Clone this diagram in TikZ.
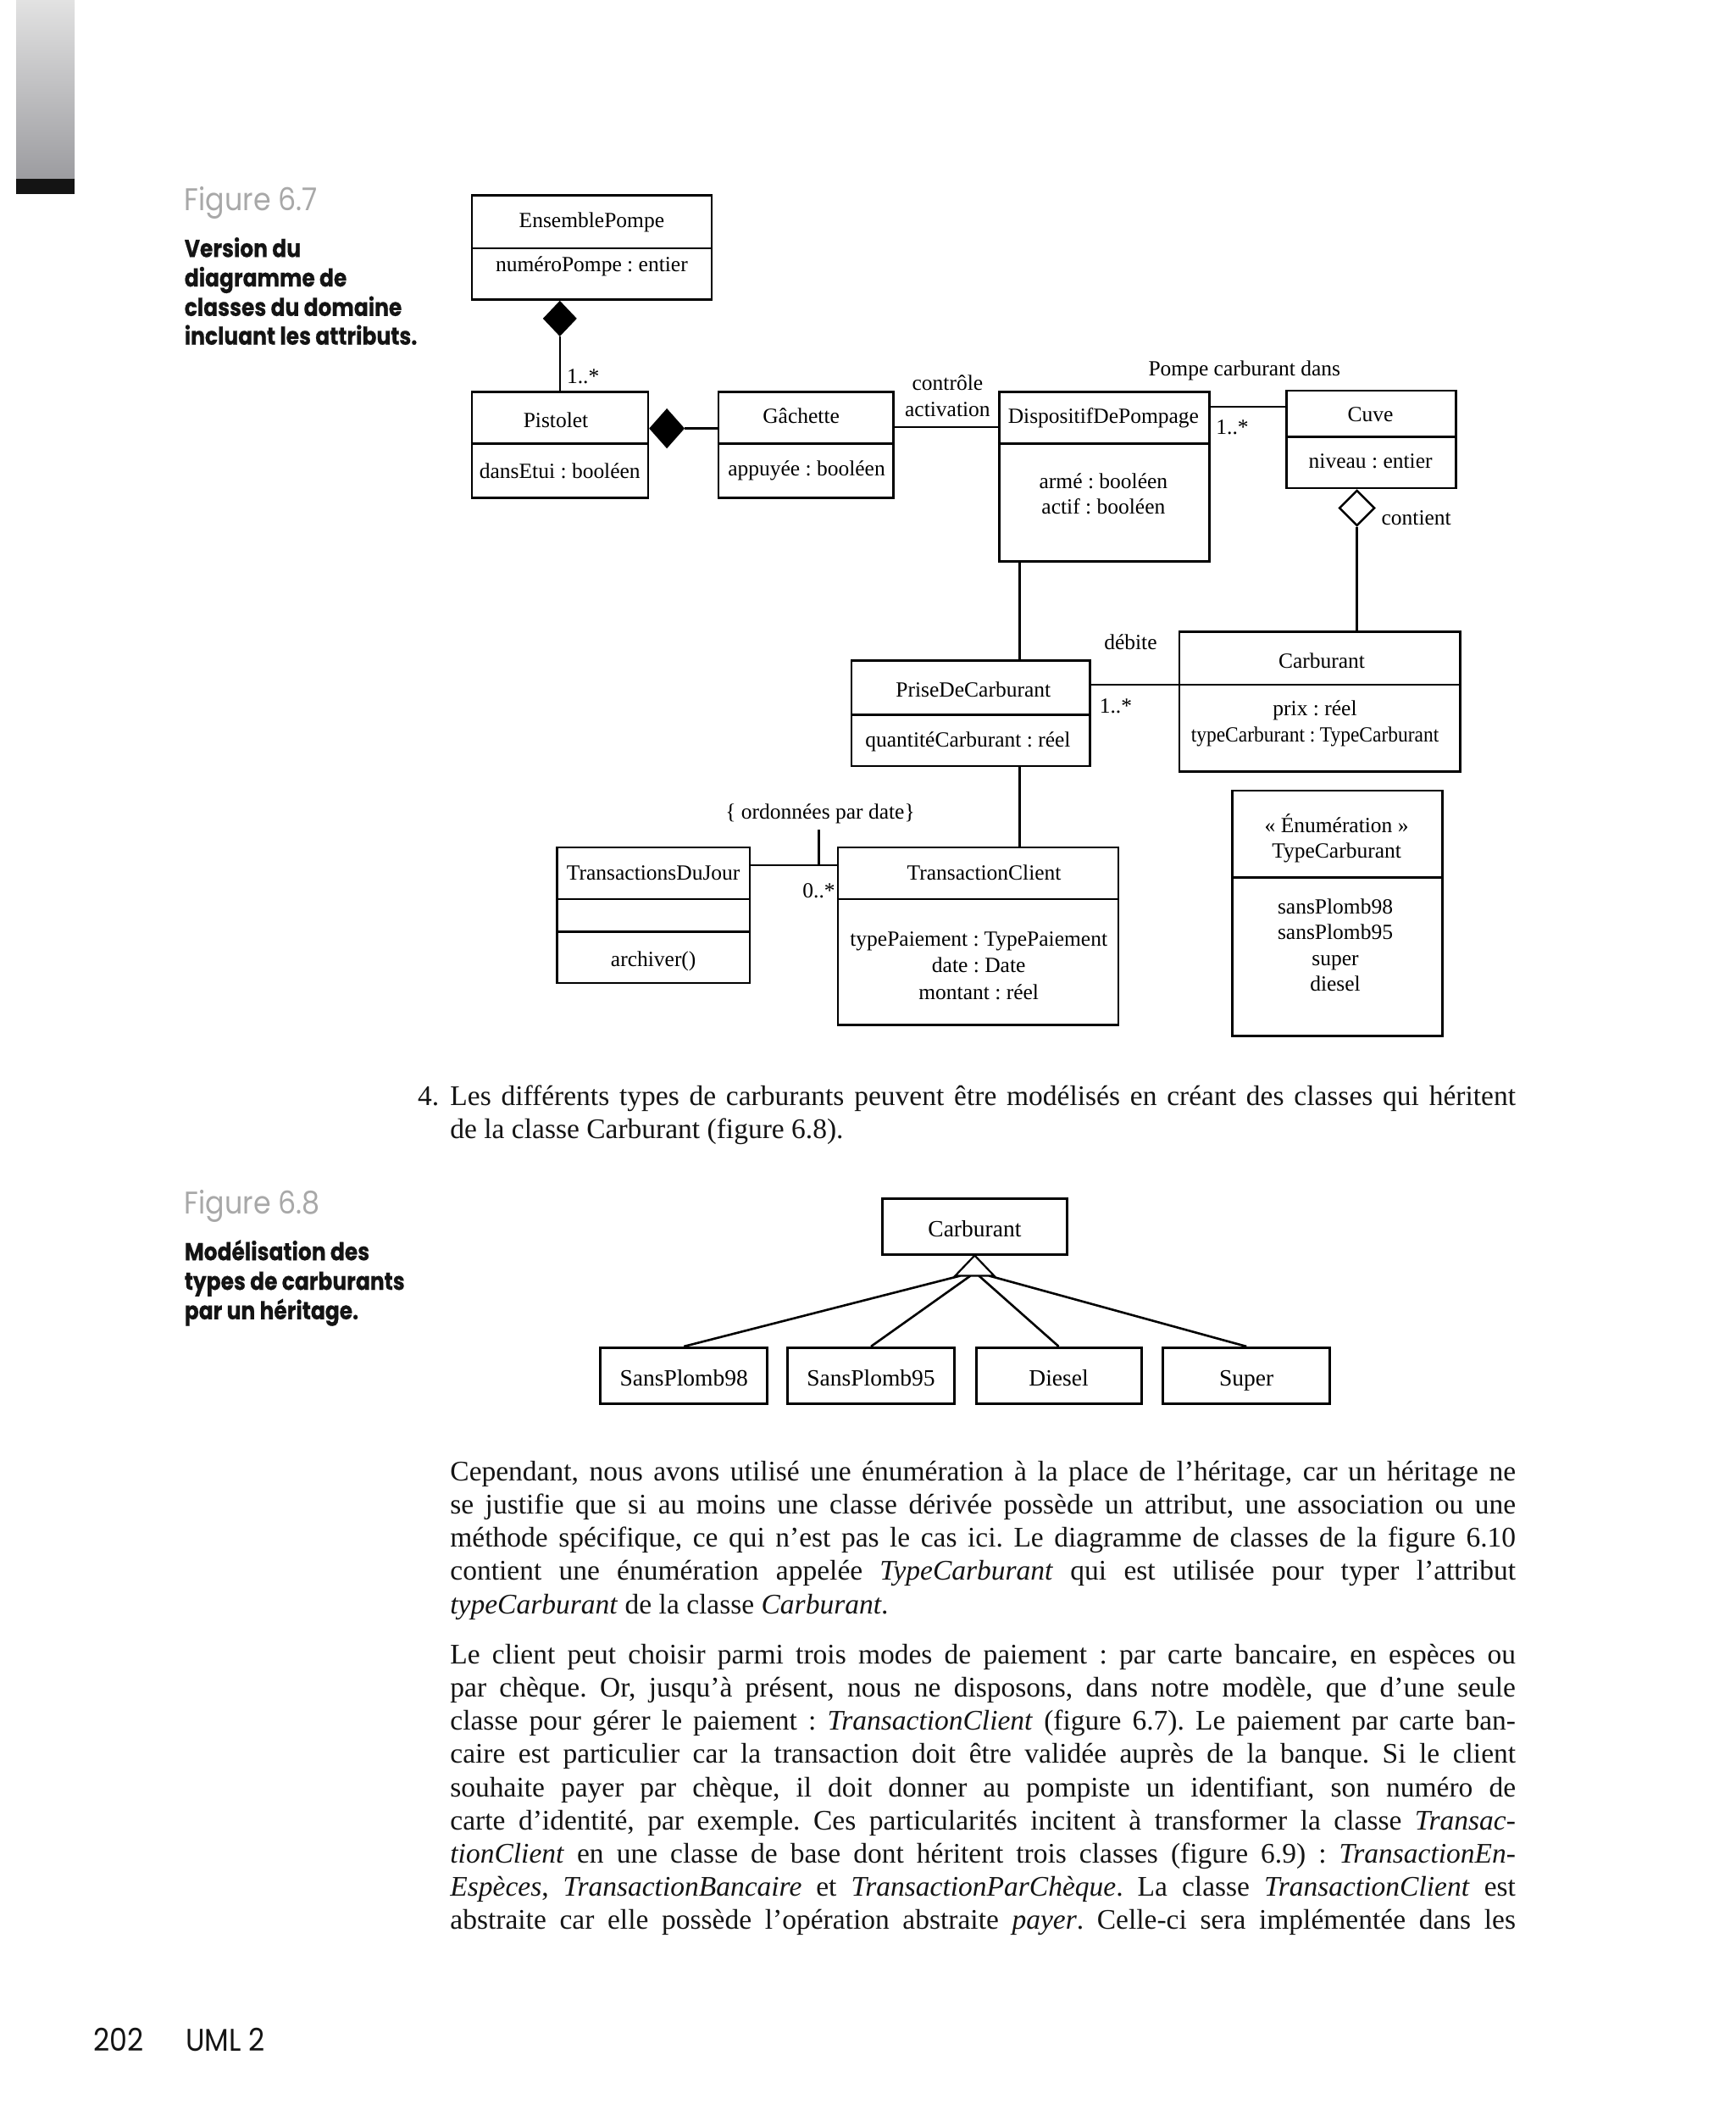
\documentclass[tikz,border=0pt]{standalone}
\usepackage{fontspec}
\setmainfont{Liberation Serif}
\newfontfamily\futura{Poppins}[FakeStretch=0.9]
\newfontfamily\futurab{Poppins}[FakeStretch=0.86, BoldFeatures={FakeBold=0.5}]
\usetikzlibrary{shapes.geometric,fit}
\definecolor{figgray}{gray}{0.66}
\definecolor{ink}{gray}{0.08}
\newcommand\dgfont{\fontsize{25.5}{30.5}\selectfont}
\newcommand\dgbfont{\fontsize{27.5}{30.5}\selectfont}
\newcommand\txfont{\fontsize{33.5}{39}\selectfont\frenchspacing}
\newcommand\figfont{\futura\fontsize{37}{40}\selectfont}
\newcommand\capfont{\futurab\bfseries\fontsize{29}{34.7}\selectfont}
% real space glyphs between words
\def\wsp{\char32\hskip0pt plus 1fil\relax}
\def\wspn{\char32\relax}
\let\wlend\relax
\def\wlgo#1 #2\wlend{#1\if\relax\detokenize{#2}\relax\else\wlsep\wlgo#2\wlend\fi}
\newcommand\J[1]{\let\wlsep\wsp\wlgo#1 \wlend}
\newcommand\T[1]{\let\wlsep\wspn\wlgo#1 \wlend}
\newcommand\divl[2]{\draw[conn] (#1.west |- 0,#2) -- (#1.east |- 0,#2);}
\newcommand\jline[3]{\node[txt] (#1) at (332,#2) {\makebox[1257.6pt][s]{\J{#3}}};}
\newcommand\rline[3]{\node[txt] (#1) at (332,#2) {\T{#3}};}
\begin{document}
\begin{tikzpicture}[x=1.6pt,y=-1.6pt,
  cls/.style={draw, line width=2.6pt, inner sep=0pt},
  clsb/.style={draw, line width=3pt, inner sep=0pt},
  conn/.style={line width=2.6pt},
  lbl/.style={font=\dgfont, anchor=base, inner sep=0pt},
  lblb/.style={font=\dgbfont, anchor=base, inner sep=0pt},
  txt/.style={font=\txfont, anchor=base west, inner sep=0pt, text=ink},
  figcap/.style={font=\figfont, anchor=base west, inner sep=0pt, text=figgray},
  capb/.style={font=\capfont, anchor=base west, inner sep=0pt, text=ink},
  comp/.style={diamond, draw, fill=black, line width=2pt, inner sep=0pt},
  aggr/.style={diamond, draw, fill=white, line width=2.4pt, inner sep=0pt}]
\useasboundingbox (0,0) rectangle (1280,1568.75);
\fill[white] (0,0) rectangle (1280,1568.75);
% page decoration
\shade[top color={rgb,255:red,226;green,226;blue,226}, bottom color={rgb,255:red,156;green,156;blue,160}] (12,0) rectangle (55,132);
\fill[ink] (12,132) rectangle (55,143);
% caption 6.7
\node[figcap] (f67) at (136,155) {\T{Figure 6.7}};
\node[capb] (c67a) at (136,189.6) {\T{Version du}};
\node[capb] (c67b) at (136,211.3) {\T{diagramme de}};
\node[capb] (c67c) at (136,233) {\T{classes du domaine}};
\node[capb] (c67d) at (136,254.2) {\T{incluant les attributs.}};
% ===== Figure 6.7 =====
\node[cls, fit={(348,144) (525,221)}] (ep) {};
\divl{ep}{183}
\node[lbl] (ept) at (436.5,168) {EnsemblePompe};
\node[lbl] (epa) at (436.5,200) {\T{numéroPompe : entier}};
\node[cls, fit={(348,289) (478,367)}] (pis) {};
\divl{pis}{327}
\node[lbl] (pist) at (410,315) {Pistolet};
\node[lbl] (pisa) at (413,353) {\T{dansEtui : booléen}};
\node[cls, fit={(530,289) (659,367)}] (gac) {};
\divl{gac}{327}
\node[lbl] (gact) at (591,312) {Gâchette};
\node[lbl] (gaca) at (595,351) {\T{appuyée : booléen}};
\node[cls, fit={(737,289) (892,414)}] (disp) {};
\divl{disp}{327}
\node[lbl] (dispt) at (814,312) {DispositifDePompage};
\node[lbl] (dispa) at (814,360) {\T{armé : booléen}};
\node[lbl] (dispb) at (814,379) {\T{actif : booléen}};
\node[cls, fit={(949,288) (1074,360)}] (cuve) {};
\divl{cuve}{322}
\node[lbl] (cuvet) at (1011,311) {Cuve};
\node[lbl] (cuvea) at (1011,345) {\T{niveau : entier}};
\node[cls, fit={(870,466) (1077,569)}] (carb) {};
\divl{carb}{505}
\node[lbl] (carbt) at (975,493) {Carburant};
\node[lbl] (carba) at (970,528) {\T{prix : réel}};
\node[lbl] (carbb) at (970,547) {\scalebox{0.92}[1]{\T{typeCarburant : TypeCarburant}}};
\node[cls, fit={(628,487) (804,565)}] (prise) {};
\divl{prise}{527}
\node[lbl] (priset) at (718,514) {PriseDeCarburant};
\node[lbl] (prisea) at (714,551) {\T{quantitéCarburant : réel}};
\node[cls, fit={(618,625) (825,756)}] (tc) {};
\divl{tc}{663}
\node[lbl] (tct) at (726,649) {TransactionClient};
\node[lbl] (tca) at (722,698) {\T{typePaiement : TypePaiement}};
\node[lbl] (tcb) at (722,717) {\T{date : Date}};
\node[lbl] (tcc) at (722,737) {\T{montant : réel}};
\node[cls, fit={(411,625) (553,725)}] (tdj) {};
\divl{tdj}{663}
\divl{tdj}{687}
\node[lbl] (tdjt) at (482,649) {TransactionsDuJour};
\node[lbl] (tdja) at (482,713) {archiver()};
\node[cls, fit={(909,583) (1064,764)}] (enum) {};
\divl{enum}{647}
\node[lbl] (enuma) at (986,614) {\T{« Énumération »}};
\node[lbl] (enumb) at (986,633) {TypeCarburant};
\node[lbl] (enumc) at (985,674) {sansPlomb98};
\node[lbl] (enumd) at (985,693) {sansPlomb95};
\node[lbl] (enume) at (985,712) {super};
\node[lbl] (enumf) at (985,731) {diesel};
% connectors
\node[comp, minimum width=38pt, minimum height=40pt, anchor=north] (dm1) at (pis.north |- ep.south) {};
\draw[conn] (dm1.south) -- (pis.north);
\node[lbl, anchor=base west] (m1) at (418,283) {1..*};
\node[comp, minimum width=40pt, minimum height=45pt, anchor=west] (dm2) at (pis.east |- 0,316) {};
\draw[conn] (dm2.east) -- (dm2.east -| gac.west);
\draw[conn] (gac.east |- 0,315) -- (disp.west |- 0,315);
\node[lbl] (labc) at (699,288) {contrôle};
\node[lbl] (laba) at (699,307) {activation};
\draw[conn] (disp.east |- 0,300) -- (cuve.west |- 0,300);
\node[lbl] (labp) at (918,277) {\T{Pompe carburant dans}};
\node[lbl, anchor=base west] (m2) at (897,320) {1..*};
\node[aggr, minimum width=42pt, minimum height=42pt, anchor=north] (dm3) at (cuve.south -| 1001,0) {};
\draw[conn] (dm3.south) -- (dm3.south |- carb.north);
\node[lbl, anchor=base west] (labct) at (1019,387) {contient};
\draw[conn] (disp.south -| 752,0) -- (prise.north -| 752,0);
\draw[conn] (prise.east |- 0,505) -- (carb.west |- 0,505);
\node[lbl] (labd) at (834,479) {débite};
\node[lbl, anchor=base west] (m3) at (811,526) {1..*};
\draw[conn] (prise.south -| 752,0) -- (tc.north -| 752,0);
\draw[conn] (tdj.east |- 0,638) -- (tc.west |- 0,638);
\coordinate (ck) at (604,612);
\draw[conn] (ck) -- (ck |- 0,638);
\node[lbl] (labo) at (605,604) {\T{\{ ordonnées par date\}}};
\node[lbl, anchor=base west] (m4) at (592,662) {0..*};
% ===== item 4 =====
\node[txt, anchor=base west] (i4) at (308,815) {4.};
\jline{i4a}{815}{Les différents types de carburants peuvent être modélisés en créant des classes qui héritent}
\rline{i4b}{839.5}{de la classe Carburant (figure 6.8).}
% caption 6.8
\node[figcap] (f68) at (136,895.5) {\T{Figure 6.8}};
\node[capb] (c68a) at (136,929.5) {\T{Modélisation des}};
\node[capb] (c68b) at (136,951.3) {\T{types de carburants}};
\node[capb] (c68c) at (136,973) {\T{par un héritage.}};
% ===== Figure 6.8 =====
\node[clsb, fit={(651,884) (787,925)}] (c2) {};
\node[lblb] (c2t) at (719,912) {Carburant};
\coordinate (tb) at ([yshift=-24pt]c2.south);
\node[clsb, fit={(443,994) (566,1035)}] (s98) {};
\node[lblb] (s98t) at (504.5,1022) {SansPlomb98};
\node[clsb, fit={(581,994) (704,1035)}] (s95) {};
\node[lblb] (s95t) at (642.5,1022) {SansPlomb95};
\node[clsb, fit={(720,994) (842,1035)}] (die) {};
\node[lblb] (diet) at (781,1022) {Diesel};
\node[clsb, fit={(858,994) (981,1035)}] (sup) {};
\node[lblb] (supt) at (919.5,1022) {Super};
\draw[conn] ([xshift=-17pt]tb) -- (s98.north);
\draw[conn] ([xshift=-5pt]tb) -- (s95.north);
\draw[conn] ([xshift=5pt]tb) -- (die.north);
\draw[conn] ([xshift=17pt]tb) -- (sup.north);
\draw[line width=2.2pt, fill=white, line join=miter] (c2.south) -- ([xshift=-23pt]tb) -- ([xshift=23pt]tb) -- cycle;
% ===== body text =====
\jline{p1a}{1092}{Cependant, nous avons utilisé une énumération à la place de l’héritage, car un héritage ne}
\jline{p1b}{1116.5}{se justifie que si au moins une classe dérivée possède un attribut, une association ou une}
\jline{p1c}{1141}{méthode spécifique, ce qui n’est pas le cas ici. Le diagramme de classes de la figure 6.10}
\jline{p1d}{1165.5}{contient une énumération appelée \textit{TypeCarburant} qui est utilisée pour typer l’attribut}
\rline{p1e}{1190}{\textit{typeCarburant} de la classe \textit{Carburant}.}
\jline{p2a}{1227}{Le client peut choisir parmi trois modes de paiement : par carte bancaire, en espèces ou}
\jline{p2b}{1251.5}{par chèque. Or, jusqu’à présent, nous ne disposons, dans notre modèle, que d’une seule}
\jline{p2c}{1276}{classe pour gérer le paiement : \textit{TransactionClient} (figure 6.7). Le paiement par carte ban-}
\jline{p2d}{1300.5}{caire est particulier car la transaction doit être validée auprès de la banque. Si le client}
\jline{p2e}{1325}{souhaite payer par chèque, il doit donner au pompiste un identifiant, son numéro de}
\jline{p2f}{1349.5}{carte d’identité, par exemple. Ces particularités incitent à transformer la classe \textit{Transac-}}
\jline{p2g}{1374}{\textit{tionClient} en une classe de base dont héritent trois classes (figure 6.9) : \textit{TransactionEn-}}
\jline{p2h}{1398.5}{\textit{Espèces}, \textit{TransactionBancaire} et \textit{TransactionParChèque}. La classe \textit{TransactionClient} est}
\jline{p2i}{1423}{abstraite car elle possède l’opération abstraite \textit{payer}. Celle-ci sera implémentée dans les}
% footer
\node[font=\futura\fontsize{37}{40}\selectfont, anchor=base west, inner sep=0pt, text=ink] (pg) at (69,1512.5) {202};
\node[font=\futura\fontsize{37}{40}\selectfont, anchor=base west, inner sep=0pt, text=ink] (uml) at (137,1512.5) {\T{UML 2}};
\end{tikzpicture}
\end{document}
